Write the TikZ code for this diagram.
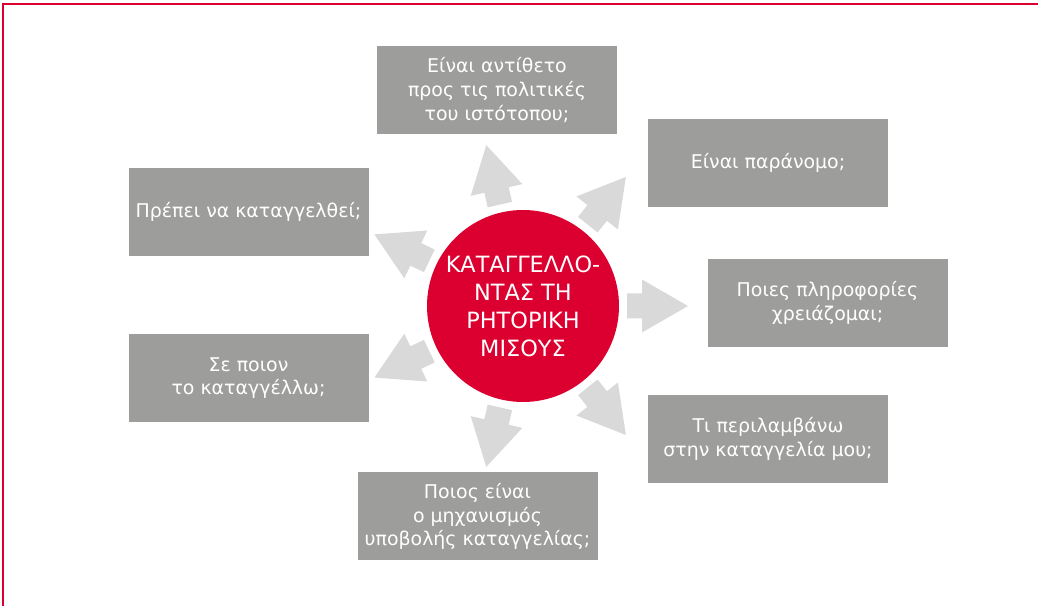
\documentclass[tikz,border=0pt]{standalone}
\usepackage{fontspec}
\setmainfont{DejaVu Sans}
\usepackage{tikz}

\definecolor{hatered}{RGB}{220,0,48}
\definecolor{boxgrey}{RGB}{157,157,156}
\definecolor{arrowgrey}{RGB}{217,217,217}

\tikzset{
  question/.style={fill=boxgrey, text=white, align=center, inner sep=0pt,
    minimum width=180pt, minimum height=66pt,
    font=\fontsize{14.2}{17.8}\selectfont},
  hub/.style={circle, fill=hatered, text=white, align=center, inner sep=0pt,
    minimum size=144pt, font=\fontsize{16.8}{21}\selectfont}
}

\begin{document}
\begin{tikzpicture}[x=0.75pt,y=0.75pt]
  % Cadre de la page
  \useasboundingbox (0,0) rectangle (1038,606);
  \draw[hatered, line width=1.5pt] (2.5,0) -- (2.5,602) -- (1038,602);

  % Le cercle central
  \node[hub] (hub) at (523,300) {ΚΑΤΑΓΓΕΛΛΟ-\\ΝΤΑΣ ΤΗ\\ΡΗΤΟΡΙΚΗ\\ΜΙΣΟΥΣ};

  % Les sept flèches
  \begin{scope}[shift={(hub.center)}]
    \foreach \k in {0,...,6}
      \fill[arrowgrey, rotate=\k*360/7]
        (104,-12.5) -- (119,-12.5) -- (119,-26.5) -- (165,0)
        -- (119,26.5) -- (119,12.5) -- (104,12.5) -- cycle;
  \end{scope}

  % Les questions
  \node[question] (policy) at (497,516) {Είναι αντίθετο\\προς τις πολιτικές\\του ιστότοπου;};
  \node[question] (illegal) at (768,443) {Είναι παράνομο;};
  \node[question] (info) at (827.5,303) {Ποιες πληροφορίες\\χρειάζομαι;};
  \node[question] (content) at (768,167) {Τι περιλαμβάνω\\στην καταγγελία μου;};
  \node[question] (mechanism) at (477.5,89.5) {Ποιος είναι\\ο μηχανισμός\\υποβολής καταγγελίας;};
  \node[question] (whom) at (248.5,228) {Σε ποιον\\το καταγγέλλω;};
  \node[question] (should) at (248.5,394) {Πρέπει να καταγγελθεί;};

\end{tikzpicture}
\end{document}
